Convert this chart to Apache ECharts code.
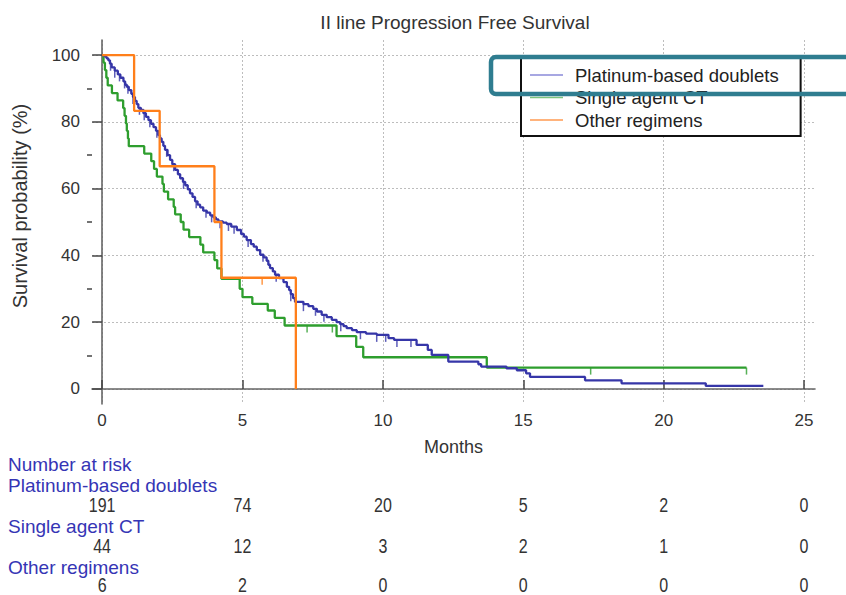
<!DOCTYPE html>
<html><head><meta charset="utf-8">
<script src="https://cdn.jsdelivr.net/npm/echarts@6/dist/echarts.min.js"></script>
<style>html,body{margin:0;padding:0;background:#fff}#c{width:846px;height:595px}</style>
</head><body><div id="c"></div>
<script>
// ---- data ----
const chartTitle = 'II line Progression Free Survival';
const seriesNames = ['Platinum-based doublets', 'Single agent CT', 'Other regimens'];
const xTicks = [0, 5, 10, 15, 20, 25];
const yTicks = [0, 20, 40, 60, 80, 100];
const yMinorTicks = [10, 30, 50, 70, 90];

const platinumSteps = [
[0,100],[0.1,99.5],[0.16,99.0],[0.22,98.4],[0.28,97.4],[0.34,96.3],[0.45,95.3],[0.56,94.2],[0.65,93.2],[0.76,92.1],[0.82,91.1],[0.88,90.5],[0.95,89.5],[1.04,88.4],[1.1,87.4],[1.17,86.3],[1.23,85.3],[1.29,84.2],[1.38,83.6],[1.47,82.6],[1.56,81.5],[1.65,80.5],[1.74,79.4],[1.83,78.4],[1.92,77.3],[2.0,76.0],[2.06,75.0],[2.12,74.0],[2.18,72.8],[2.24,71.6],[2.33,70.0],[2.42,68.6],[2.5,67.3],[2.6,65.6],[2.7,64.3],[2.78,63.1],[2.88,62.0],[2.96,61.0],[3.05,59.8],[3.13,58.6],[3.22,57.5],[3.31,56.2],[3.4,55.2],[3.49,54.4],[3.6,53.4],[3.73,52.8],[3.85,52.0],[3.96,51.4],[4.05,50.8],[4.14,50.2],[4.3,49.8],[4.44,49.4],[4.6,48.6],[4.8,47.6],[4.95,46.4],[5.05,45.6],[5.15,44.6],[5.3,43.4],[5.4,42.6],[5.51,41.6],[5.63,40.2],[5.75,39.4],[5.86,38.4],[5.92,37.2],[5.98,36.2],[6.08,35.2],[6.16,34.2],[6.3,33.2],[6.46,32.0],[6.58,30.6],[6.66,29.6],[6.72,28.4],[6.8,27.2],[6.87,26.1],[7.17,25.4],[7.35,24.8],[7.52,24.0],[7.65,23.2],[7.82,22.2],[8.0,21.5],[8.18,20.7],[8.35,20.0],[8.48,19.4],[8.6,18.8],[8.71,18.2],[8.9,17.6],[9.07,17.0],[9.4,16.6],[9.78,16.2],[10.2,15.2],[10.4,14.7],[11.2,13.2],[11.6,11.7],[11.74,10.2],[12.33,8.2],[13.4,7.4],[13.5,6.7],[14.4,6.2],[14.77,5.6],[15.1,4.7],[15.24,3.6],[17.2,2.6],[18.5,1.7],[21.5,0.9],[23.55,0.9]
];
const singleSteps = [
[0,100],[0.05,97.7],[0.1,95.5],[0.15,93.2],[0.2,90.9],[0.35,88.6],[0.55,86.4],[0.75,84.1],[0.8,81.8],[0.85,79.5],[0.88,77.3],[0.92,75.0],[0.95,72.7],[1.5,70.5],[1.75,68.2],[1.85,65.9],[1.95,63.6],[2.15,61.4],[2.2,59.1],[2.35,56.8],[2.55,54.5],[2.6,52.3],[2.8,50.0],[2.9,47.7],[3.1,45.5],[3.5,43.2],[3.6,40.9],[4.0,38.6],[4.1,36.1],[4.25,33.0],[4.9,30.0],[5.0,27.5],[5.35,25.5],[5.9,23.5],[6.15,21.3],[6.5,19.0],[8.35,15.8],[9.05,12.6],[9.3,9.5],[13.7,6.4],[22.95,6.4]
];
const otherSteps = [
[0,100],[1.14,83.3],[2.05,66.7],[4.0,50.0],[4.25,33.3],[6.9,0]
];
const platinumCensor = [0.3,0.45,0.62,0.8,0.92,1.1,1.33,1.5,1.7,1.95,2.3,2.55,2.9,3.35,3.7,3.9,4.2,4.5,4.7,5.2,5.73,6.2,6.72,7.17,7.6,7.9,8.5,9.2,9.78,10.1,10.5,11.0];
const singleCensor = [7.3, 8.2, 17.4, 22.95];
const otherCensor = [5.7];

const riskLabel = 'Number at risk';
const riskPlatinum = [191, 74, 20, 5, 2, 0];
const riskSingle = [44, 12, 3, 2, 1, 0];
const riskOther = [6, 2, 0, 0, 0, 0];

// ---- styles ----
const colors = ['#3636a8', '#2e9e2e', '#ff7f1a'];
const legendColors = ['#8a8ad8', '#7cc47c', '#ff9a50'];
const FONT = 'Liberation Sans, Arial, sans-serif';

function survAt(steps, t) {
  let s = steps[0][1];
  for (const p of steps) { if (p[0] <= t) s = p[1]; else break; }
  return s;
}
function censorData(steps, times) { return times.map(t => [t, survAt(steps, t)]); }

const chart = echarts.init(document.getElementById('c'), null, {renderer: 'svg'});
const gridLine = {show: true, lineStyle: {color: '#bdbdbd', type: [2, 2], width: 1}};

const lineSeries = (name, data, color, z) => ({
  name, type: 'line', step: 'end', data, symbol: 'none', z,
  lineStyle: {color, width: 2.3}, itemStyle: {color}, animation: false, silent: true
});
const censorSeries = (data, color, z) => ({
  type: 'scatter', data, symbol: 'rect', symbolSize: [1.5, 7], symbolOffset: [0, 3.5],
  itemStyle: {color}, z, animation: false, silent: true
});

chart.setOption({
  animation: false,
  grid: {left: 92, right: 31, top: 40, bottom: 191},
  xAxis: {
    type: 'value', min: -0.36, max: 25.39,
    axisLine: {show: true, lineStyle: {color: '#666', width: 1.6}},
    axisTick: {show: true, inside: true, length: 9, customValues: xTicks, lineStyle: {color: '#444', width: 1.5}},
    axisLabel: {customValues: xTicks, margin: 8, color: '#333', fontSize: 17, fontFamily: FONT},
    splitLine: gridLine,
    name: 'Months', nameLocation: 'middle', nameGap: 34,
    nameTextStyle: {color: '#333', fontSize: 18, fontFamily: FONT}
  },
  yAxis: [{
    type: 'value', min: -4.5, max: 104.5,
    axisLine: {show: true, lineStyle: {color: '#666', width: 1.6}},
    axisTick: {show: true, inside: false, length: 10, customValues: yTicks, lineStyle: {color: '#444', width: 1.5}},
    axisLabel: {customValues: yTicks, margin: 12, color: '#333', fontSize: 17, fontFamily: FONT},
    splitLine: gridLine
  }, {
    type: 'value', min: -4.5, max: 104.5, position: 'left',
    axisLine: {show: false},
    axisTick: {show: true, inside: false, length: 5, customValues: yMinorTicks, lineStyle: {color: '#444', width: 1.5}},
    axisLabel: {show: false}, splitLine: {show: false}
  }],
  legend: {
    orient: 'vertical', left: 521, top: 57,
    padding: [8, 22, 6, 9], itemWidth: 33, itemHeight: 1.5, itemGap: 2.5, icon: 'rect',
    backgroundColor: '#fff', borderColor: '#111', borderWidth: 2, borderRadius: 0,
    textStyle: {fontSize: 18.5, fontFamily: FONT, color: '#222', lineHeight: 20, padding: [0, 0, 0, 7]},
    data: seriesNames.map((n, i) => ({name: n, icon: 'rect', itemStyle: {color: legendColors[i]}}))
  },
  series: [
    lineSeries(seriesNames[1], singleSteps, colors[1], 2),
    censorSeries(censorData(singleSteps, singleCensor), colors[1], 2),
    lineSeries(seriesNames[0], platinumSteps, colors[0], 3),
    censorSeries(censorData(platinumSteps, platinumCensor), colors[0], 3),
    lineSeries(seriesNames[2], otherSteps, colors[2], 4),
    censorSeries(censorData(otherSteps, otherCensor), colors[2], 4)
  ]
});

// ---- texts: title, y title, risk table, highlight box ----
const graphics = [];
graphics.push({type: 'text', x: 455, y: 22, z: 10, style: {text: chartTitle, fill: '#333', font: '19px ' + FONT, textAlign: 'center', textVerticalAlign: 'middle'}});
graphics.push({type: 'text', x: 20, y: 206, rotation: Math.PI / 2, z: 10, style: {text: 'Survival probability (%)', fill: '#333', font: '20px ' + FONT, textAlign: 'center', textVerticalAlign: 'middle'}});

const labelColor = '#3535b5';
const tableRows = [
  {label: riskLabel, ly: 464},
  {label: seriesNames[0], ly: 485, vals: riskPlatinum, vy: 505.5},
  {label: seriesNames[1], ly: 526, vals: riskSingle, vy: 546.5},
  {label: seriesNames[2], ly: 567, vals: riskOther, vy: 585}
];
tableRows.forEach(r => {
  graphics.push({type: 'text', x: 8, y: r.ly, style: {text: r.label, fill: labelColor, font: '19px ' + FONT, lineHeight: 19, textAlign: 'left', textVerticalAlign: 'middle'}});
  if (r.vals) r.vals.forEach((v, i) => {
    const px = chart.convertToPixel({xAxisIndex: 0}, xTicks[i]);
    graphics.push({type: 'text', x: px, y: r.vy, scaleX: 0.8, style: {text: String(v), fill: '#333', font: '20px ' + FONT, lineHeight: 19, textAlign: 'center', textVerticalAlign: 'middle'}});
  });
});
graphics.push({type: 'rect', z: 20, shape: {x: 491, y: 57, width: 380, height: 37, r: 5},
  style: {fill: 'none', stroke: '#2f7d90', lineWidth: 4.5}});
chart.setOption({graphic: graphics});
</script></body></html>
